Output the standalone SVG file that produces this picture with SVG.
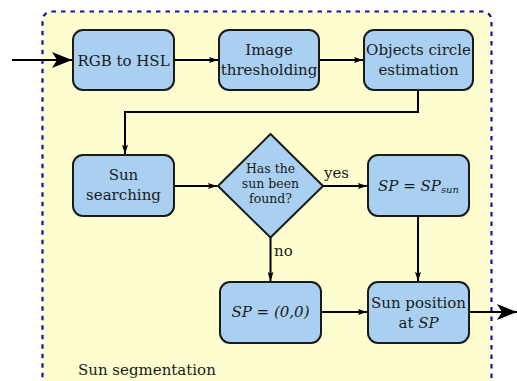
<svg xmlns="http://www.w3.org/2000/svg" width="517" height="381" viewBox="0 0 517 381">
<style>
.box{fill:#a9d0f0;stroke:#1a1a1a;stroke-width:2}
.t{font-family:"DejaVu Serif","Liberation Serif",serif;font-size:15px;fill:#1a1a1a;text-anchor:middle}
.l{font-family:"DejaVu Serif","Liberation Serif",serif;font-size:15px;fill:#1a1a1a}
.c{fill:none;stroke:#000;stroke-width:2}
.i{font-style:italic}
</style>
<defs>
<marker id="sm" markerWidth="9" markerHeight="6" refX="9" refY="3" orient="auto" markerUnits="userSpaceOnUse">
<path d="M0,0 L9,3 L0,6 L1.5,3 Z" fill="#000"/>
</marker>
<marker id="big" markerWidth="20" markerHeight="16" refX="20" refY="8" orient="auto" markerUnits="userSpaceOnUse">
<path d="M0,0 L20,8 L0,16 L5,8 Z" fill="#000"/>
</marker>
</defs>
<rect id="container" x="42.5" y="11.5" width="449" height="376" rx="9" fill="#fdfdd0" stroke="#1414a0" stroke-width="2.2" stroke-dasharray="4.5,5"/>
<g id="connectors">
<path class="c" d="M12,60 H72" marker-end="url(#big)"/>
<path class="c" d="M174,60 H218" marker-end="url(#sm)"/>
<path class="c" d="M319,60 H363" marker-end="url(#sm)"/>
<path class="c" d="M418,90 V112 H125 V154" marker-end="url(#sm)"/>
<path class="c" d="M174,186 H217" marker-end="url(#sm)"/>
<path class="c" d="M323,186 H367" marker-end="url(#sm)"/>
<path class="c" d="M270.5,237 V281" marker-end="url(#sm)"/>
<path class="c" d="M418,216 V281" marker-end="url(#sm)"/>
<path class="c" d="M321,312 H367" marker-end="url(#sm)"/>
<path class="c" d="M469,312 H517" marker-end="url(#big)"/>
<text class="l" x="324" y="178">yes</text>
<text class="l" x="274" y="256">no</text>
</g>
<g id="rgb2hsl">
<rect class="box" x="73" y="30" width="101" height="60" rx="10"/>
<text class="t" x="123.5" y="65.5">RGB to HSL</text>
</g>
<g id="threshold">
<rect class="box" x="219" y="30" width="100" height="60" rx="10"/>
<text class="t" x="269" y="54.5">Image</text>
<text class="t" x="269" y="74.5">thresholding</text>
</g>
<g id="circle">
<rect class="box" x="364" y="30" width="109" height="60" rx="10"/>
<text class="t" x="418.5" y="54.5">Objects circle</text>
<text class="t" x="418.5" y="74.5">estimation</text>
</g>
<g id="search">
<rect class="box" x="73" y="155" width="101" height="61" rx="10"/>
<text class="t" x="123.5" y="180">Sun</text>
<text class="t" x="123.5" y="200">searching</text>
</g>
<g id="decision">
<path class="box" d="M270.5,134 L323,186 L270.5,237.5 L218,186 Z" stroke-linejoin="round"/>
<text class="t" x="270.5" y="173" style="font-size:12.5px">Has the</text>
<text class="t" x="270.5" y="188" style="font-size:12.5px">sun been</text>
<text class="t" x="270.5" y="203" style="font-size:12.5px">found?</text>
</g>
<g id="spsun">
<rect class="box" x="368" y="155" width="101" height="61" rx="10"/>
<text class="t" x="418.5" y="190.5"><tspan class="i">SP</tspan> = <tspan class="i">SP</tspan><tspan class="i" font-size="10" dy="2">sun</tspan></text>
</g>
<g id="spzero">
<rect class="box" x="220" y="282" width="101" height="61" rx="10"/>
<text class="t" x="270.5" y="317"><tspan class="i">SP</tspan> = <tspan class="i">(0,0)</tspan></text>
</g>
<g id="position">
<rect class="box" x="368" y="282" width="101" height="61" rx="10"/>
<text class="t" x="418.5" y="308">Sun position</text>
<text class="t" x="418.5" y="328">at <tspan class="i">SP</tspan></text>
</g>
<text class="l" x="78" y="375">Sun segmentation</text>
</svg>
